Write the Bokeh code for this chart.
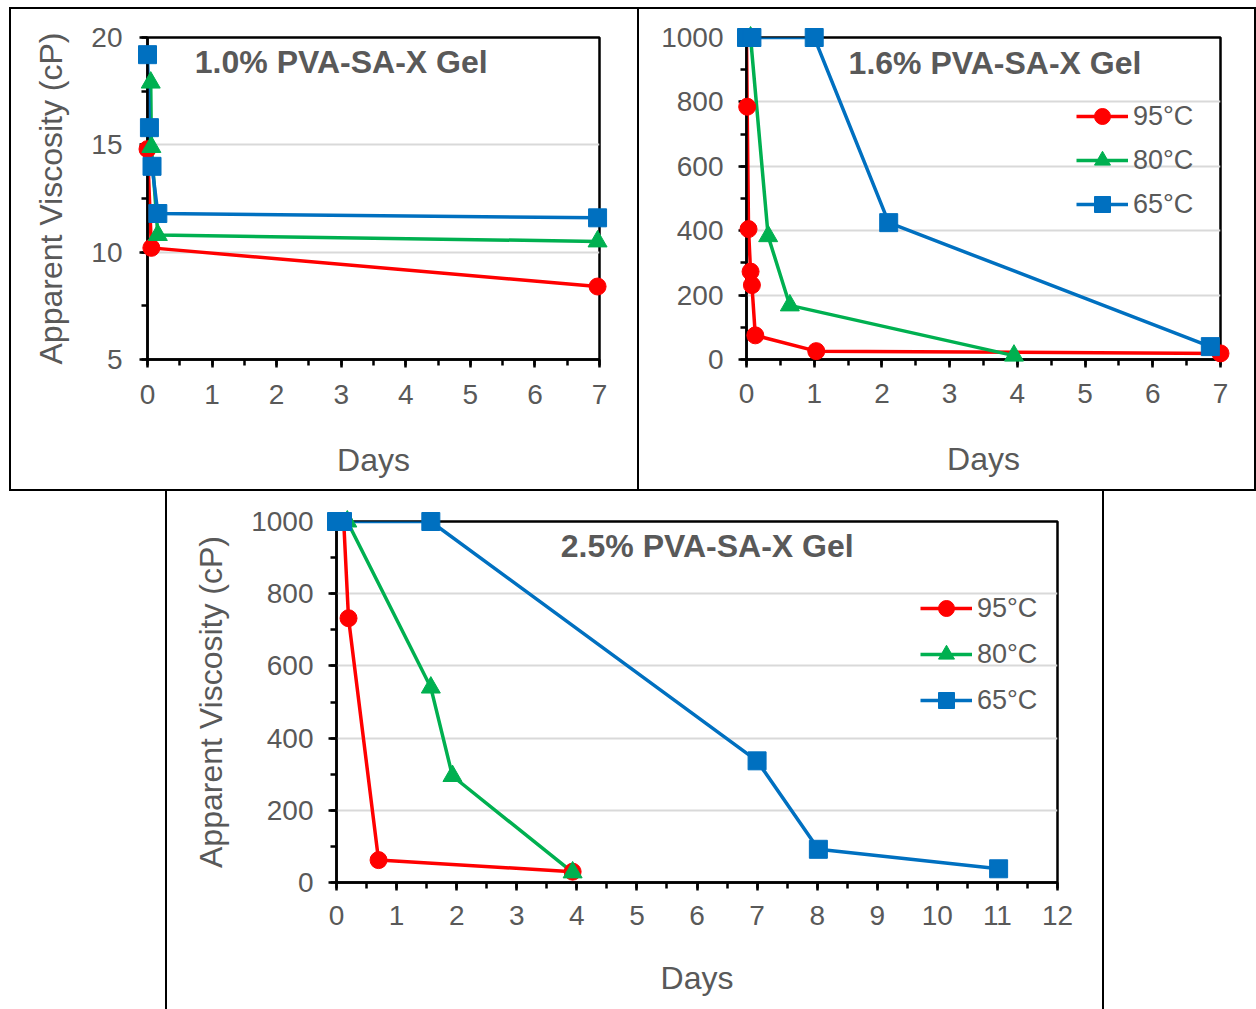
from bokeh.plotting import figure
from bokeh.models import Range1d, SingleIntervalTicker, Label, Legend, LegendItem, Spacer
from bokeh.layouts import column, row
from bokeh.embed import file_html
from bokeh.resources import INLINE

# ---------------- data ----------------
temps = ["95°C", "80°C", "65°C"]

# 1.0% gel
g1_days_95 = [0.0, 0.06, 6.97]
g1_visc_95 = [14.8, 10.2, 8.4]
g1_days_80 = [0.05, 0.06, 0.16, 6.97]
g1_visc_80 = [17.9, 14.9, 10.8, 10.5]
g1_days_65 = [0.0, 0.03, 0.07, 0.16, 6.97]
g1_visc_65 = [19.2, 15.8, 14.0, 11.8, 11.6]

# 1.6% gel
g2_days_95 = [0.0, 0.01, 0.03, 0.06, 0.08, 0.13, 1.03, 7.0]
g2_visc_95 = [1000, 785, 405, 273, 231, 75, 26, 19]
g2_days_80 = [0.06, 0.32, 0.64, 3.95]
g2_visc_80 = [1000, 383, 168, 12]
g2_days_65 = [0.0, 0.08, 1.0, 2.1, 6.85]
g2_visc_65 = [1000, 1000, 1000, 425, 40]

# 2.5% gel
g3_days_95 = [0.12, 0.2, 0.7, 3.93]
g3_visc_95 = [1000, 732, 62, 30]
g3_days_80 = [0.18, 1.57, 1.93, 3.93]
g3_visc_80 = [1000, 540, 295, 28]
g3_days_65 = [0.0, 0.1, 1.57, 7.0, 8.02, 11.02]
g3_visc_65 = [1000, 1000, 1000, 337, 92, 38]

titles = ["1.0% PVA-SA-X Gel", "1.6% PVA-SA-X Gel", "2.5% PVA-SA-X Gel"]
x_label = "Days"
y_label = "Apparent Viscosity (cP)"

# ---------------- style ----------------
COLORS = ["#FF0000", "#00B050", "#0070C0"]
MARKERS = ["circle", "triangle", "square"]
MSIZE = [17, 19, 18]
TXT = "#595959"
FONT = "Liberation Sans"


def make_panel(w, h, borders, xr, yr, xint, yint, ylab, title, title_xy, series,
               legend_loc, legend_spacing, tick_standoff, days_standoff, ytick_standoff):
    bl, br, bt, bb = borders
    p = figure(width=w, height=h, output_backend="svg", toolbar_location=None,
               x_range=Range1d(*xr), y_range=Range1d(*yr),
               min_border_left=bl, min_border_right=br, min_border_top=bt, min_border_bottom=bb)
    p.outline_line_color = "black"
    p.outline_line_width = 2.5
    p.outline_line_alpha = 1
    p.xgrid.visible = False
    p.ygrid.grid_line_color = "#D9D9D9"
    p.ygrid.grid_line_width = 2
    p.xaxis.ticker = SingleIntervalTicker(interval=xint, num_minor_ticks=2)
    p.yaxis.ticker = SingleIntervalTicker(interval=yint, num_minor_ticks=2)
    p.ygrid.ticker = p.yaxis.ticker
    for ax in (p.xaxis[0], p.yaxis[0]):
        ax.axis_line_color = "black"
        ax.axis_line_width = 2.5
        ax.major_tick_line_color = "black"
        ax.major_tick_line_width = 2.5
        ax.minor_tick_line_color = "black"
        ax.minor_tick_line_width = 2.5
        ax.major_tick_in = 0
        ax.major_tick_out = 8
        ax.minor_tick_in = 0
        ax.minor_tick_out = 6
        ax.major_label_text_font = FONT
        ax.major_label_text_font_size = "28px"
        ax.major_label_text_color = TXT
        ax.axis_label_text_font = FONT
        ax.axis_label_text_font_size = "32px"
        ax.axis_label_text_font_style = "normal"
        ax.axis_label_text_color = TXT
    p.xaxis.major_label_standoff = tick_standoff
    p.yaxis.major_label_standoff = ytick_standoff
    p.xaxis.axis_label = x_label
    p.xaxis.axis_label_standoff = days_standoff
    if ylab:
        p.yaxis.axis_label = ylab
        p.yaxis.axis_label_standoff = 19

    items = []
    for (xs, ys), color, marker, ms, name in zip(series, COLORS, MARKERS, MSIZE, temps):
        lr = p.line(xs, ys, line_color=color, line_width=3.5)
        sr = p.scatter(xs, ys, marker=marker, size=ms, fill_color=color, line_color=color,
                       level="overlay")
        items.append(LegendItem(label=name, renderers=[lr, sr]))

    if legend_loc is not None:
        lg = Legend(items=items, location=legend_loc, orientation="vertical",
                    background_fill_alpha=0, border_line_alpha=0,
                    padding=0, margin=0, spacing=legend_spacing, glyph_width=52, glyph_height=40,
                    label_standoff=5, label_text_font=FONT, label_text_font_size="27px",
                    label_text_color=TXT, label_height=26)
        p.add_layout(lg, "center")

    p.add_layout(Label(x=title_xy[0], y=title_xy[1], text=title, text_font=FONT,
                       text_font_size="32px", text_font_style="bold", text_color=TXT,
                       text_align="center", text_baseline="middle"))
    return p


def bar(w, h):
    return Spacer(width=w, height=h, styles={"background-color": "black"})


p1 = make_panel(626, 480, (136, 38, 28, 128), (0, 7), (5, 20), 1, 5, y_label, titles[0],
                (3.0, 18.84),
                [(g1_days_95, g1_visc_95), (g1_days_80, g1_visc_80), (g1_days_65, g1_visc_65)],
                None, 4, 17, 35, 17)
p2 = make_panel(615, 480, (107, 34, 28, 130), (0, 7), (0, 1000), 1, 200, None, titles[1],
                (3.67, 922),
                [(g2_days_95, g2_visc_95), (g2_days_80, g2_visc_80), (g2_days_65, g2_visc_65)],
                (330, 135), 4, 16, 35, 15)
p3 = make_panel(935, 518, (169, 45, 30, 127), (0, 12), (0, 1000), 1, 200, y_label, titles[2],
                (6.17, 931),
                [(g3_days_95, g3_visc_95), (g3_days_80, g3_visc_80), (g3_days_65, g3_visc_65)],
                (584, 162), 6, 15, 32, 15)

layout = column(
    Spacer(height=7),
    row(Spacer(width=9), bar(1247, 2), spacing=0),
    row(Spacer(width=9), bar(2, 480), p1, bar(2, 480), p2, bar(2, 480), spacing=0),
    row(Spacer(width=9), bar(1247, 2), spacing=0),
    row(Spacer(width=165), bar(2, 518), p3, bar(2, 518), spacing=0),
    spacing=0)

open("out.html", "w").write(file_html(layout, INLINE))
